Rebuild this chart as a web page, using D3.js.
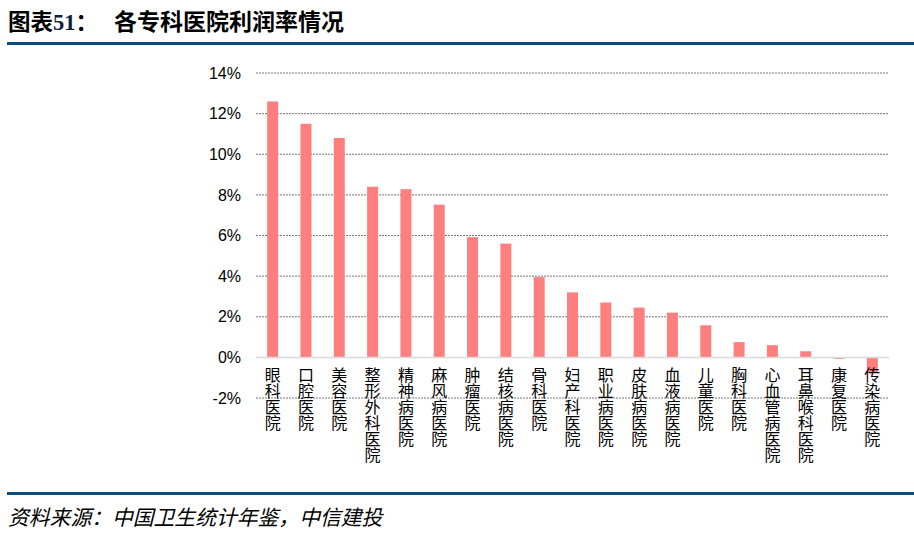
<!DOCTYPE html>
<html><head><meta charset="utf-8">
<script src="https://cdn.jsdelivr.net/npm/d3@7/dist/d3.min.js"></script>
<style>
body{margin:0;background:#fff;}
svg{display:block;}
</style></head>
<body>
<svg id="c" width="914" height="547"></svg>
<script>
const categories = ["眼科医院","口腔医院","美容医院","整形外科医院","精神病医院","麻风病医院","肿瘤医院","结核病医院","骨科医院","妇产科医院","职业病医院","皮肤病医院","血液病医院","儿童医院","胸科医院","心血管病医院","耳鼻喉科医院","康复医院","传染病医院"];
const values = [12.6, 11.5, 10.8, 8.4, 8.28, 7.52, 5.92, 5.6, 3.95, 3.2, 2.7, 2.45, 2.2, 1.58, 0.75, 0.6, 0.3, -0.07, -0.75];
const yTicks = [-2, 0, 2, 4, 6, 8, 10, 12, 14];
const titlePrefix = "图表";
const titleNum = "51";
const titleColon = "：";
const titleText = "各专科医院利润率情况";
const sourceText = "资料来源：中国卫生统计年鉴，中信建投";

const svg = d3.select("#c");
const x = d3.scaleBand().domain(categories).range([256, 889]).paddingInner(0.67).paddingOuter(0.335);
const y = d3.scaleLinear().domain([-2, 14]).range([398, 73]);

// title
const t1 = svg.append("text").attr("x", 8).attr("y", 30).attr("font-family", "Noto Sans CJK SC").attr("font-weight", "bold").attr("font-size", 22.5).attr("fill", "#000");
t1.append("tspan").text(titlePrefix);
t1.append("tspan").attr("font-family", "Liberation Serif").attr("fill", "#0d1f3a").text(titleNum);
t1.append("tspan").text(titleColon);
svg.append("text").attr("x", 114).attr("y", 30).attr("font-family", "Noto Sans CJK SC").attr("font-weight", "bold").attr("font-size", 23).attr("fill", "#000").text(titleText);
svg.append("rect").attr("x", 7).attr("y", 42).attr("width", 907).attr("height", 3).attr("fill", "#0e4a7e");

// grid
const g = svg.append("g");
g.selectAll("line.grid").data(yTicks.filter(d => d !== 0)).join("line")
  .attr("x1", 256).attr("x2", 889).attr("y1", d => y(d)).attr("y2", d => y(d))
  .attr("stroke", "#555").attr("stroke-width", 0.8).attr("stroke-dasharray", "2,1");

// y axis labels
const yAxis = d3.axisLeft(y).tickValues(yTicks).tickFormat(d => d + "%").tickSize(0).tickPadding(0);
const ya = svg.append("g").attr("transform", "translate(241,0)").call(yAxis);
ya.select(".domain").remove();
ya.selectAll("text").attr("font-family", "Liberation Sans, Arial").attr("font-size", 16).attr("fill", "#000");

// bars
svg.selectAll("rect.bar").data(values).join("rect").attr("class", "bar")
  .attr("x", (d, i) => x(categories[i]))
  .attr("width", x.bandwidth())
  .attr("y", d => y(Math.max(0, d)))
  .attr("height", d => Math.abs(y(d) - y(0)))
  .attr("fill", "#ff7f7f");

// zero line
svg.append("line").attr("x1", 256).attr("x2", 889).attr("y1", y(0)).attr("y2", y(0)).attr("stroke", "#d9d9d9").attr("stroke-width", 1.5);

// category labels (vertical)
svg.selectAll("text.cat").data(categories).join("text").attr("class", "cat")
  .attr("x", d => x(d) + x.bandwidth() / 2)
  .attr("y", 367)
  .attr("font-family", "Noto Sans CJK SC").attr("font-size", 16).attr("fill", "#000")
  .style("writing-mode", "vertical-rl").style("text-orientation", "upright")
  .attr("text-anchor", "start")
  .text(d => d);

// footer
svg.append("rect").attr("x", 7).attr("y", 492).attr("width", 907).attr("height", 3).attr("fill", "#0e4a7e");
svg.append("text").attr("x", 8).attr("y", 525).attr("font-family", "Noto Sans CJK SC").attr("font-style", "italic").attr("font-size", 20.8).attr("fill", "#000").text(sourceText);
</script>
</body></html>
